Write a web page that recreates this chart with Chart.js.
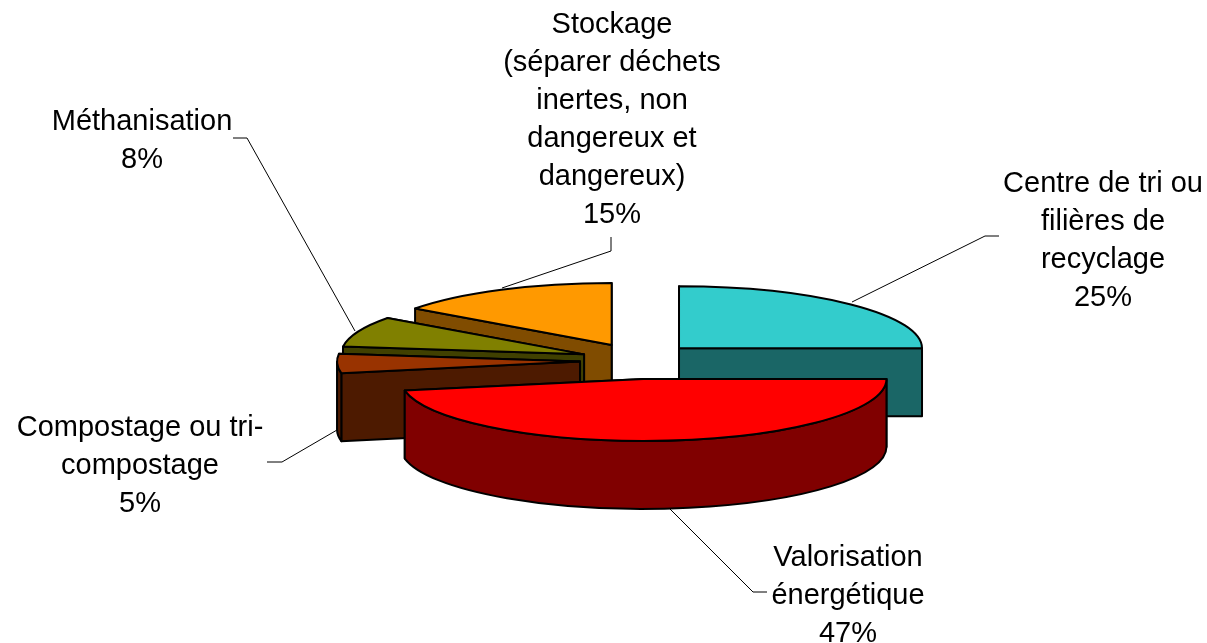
<!DOCTYPE html>
<html lang="fr">

<head>
  <meta charset="UTF-8" />
  <title>Traitement des déchets</title>
  <script src="https://cdn.jsdelivr.net/npm/chart.js"></script>
  <style>
    html, body {
      margin: 0;
      background: #fff;
      overflow: hidden;
    }

    #chart-container {
      position: relative;
      width: 1207px;
      height: 643px;
    }
  </style>
</head>

<body>

  <div id="chart-container">
    <canvas id="dechetsChart" width="1207" height="643"></canvas>
  </div>

  <script>
    // Données
    const categories = [
      ['Centre de tri ou', 'filières de', 'recyclage'],
      ['Valorisation', 'énergétique'],
      ['Compostage ou tri-', 'compostage'],
      ['Méthanisation'],
      ['Stockage', '(séparer déchets', 'inertes, non', 'dangereux et', 'dangereux)']
    ];
    const values = [25, 47, 5, 8, 15];

    // Couleurs : dessus et flancs
    const topColors = ['#33CCCC', '#FF0000', '#993300', '#808000', '#FF9900'];
    const wallColors = ['#1A6666', '#800000', '#4D1A00', '#404000', '#804C00'];

    // Réglages de la fausse 3D
    const squash = 0.255;
    const depth = 68;
    const explodeX = 58;
    const explodeY = 18;
    const drawOrder = [0, 4, 3, 2, 1];

    // Position des étiquettes et traits de rappel (centre x, baseline y de la 1re ligne)
    const labelBoxes = [
      { x: 1103, y: 192 },
      { x: 848, y: 566 },
      { x: 140, y: 436 },
      { x: 142, y: 130 },
      { x: 612, y: 33 }
    ];
    const leaderLines = [
      [[852, 302], [985, 236], [999, 236]],
      [[670, 509], [753, 592], [767, 592]],
      [[337, 430], [282, 462], [267, 462]],
      [[355, 331], [247, 138], [233, 138]],
      [[502, 288], [611, 251], [611, 237]]
    ];

    const fontSize = 29;
    const lineHeight = 38;

    // Prisme d'une part : flancs radiaux, flanc extérieur, puis dessus
    function drawSlice(ctx, arc, index) {
      const { startAngle, endAngle, outerRadius: r } = arc;
      const mid = (startAngle + endAngle) / 2;
      const cx = arc.x + Math.cos(mid) * explodeX;
      const cy = arc.y + Math.sin(mid) * explodeY;
      const px = a => cx + Math.cos(a) * r;
      const py = a => cy + Math.sin(a) * r * squash;

      ctx.save();
      ctx.lineWidth = 2;
      ctx.lineJoin = 'round';
      ctx.strokeStyle = '#000';
      ctx.fillStyle = wallColors[index];

      // flancs radiaux, celui du fond d'abord
      [startAngle, endAngle].sort((a, b) => py(a) - py(b)).forEach(a => {
        ctx.beginPath();
        ctx.moveTo(cx, cy);
        ctx.lineTo(px(a), py(a));
        ctx.lineTo(px(a), py(a) + depth);
        ctx.lineTo(cx, cy + depth);
        ctx.closePath();
        ctx.fill();
        ctx.stroke();
      });

      // flanc extérieur, seulement la partie tournée vers l'avant
      const a0 = Math.max(startAngle, 0);
      const a1 = Math.min(endAngle, Math.PI);
      if (a0 < a1) {
        ctx.beginPath();
        ctx.ellipse(cx, cy, r, r * squash, 0, a0, a1);
        ctx.lineTo(px(a1), py(a1) + depth);
        ctx.ellipse(cx, cy + depth, r, r * squash, 0, a1, a0, true);
        ctx.closePath();
        ctx.fill();
        ctx.stroke();
      }

      // dessus : l'arc de Chart.js, écrasé
      ctx.save();
      ctx.translate(cx, cy);
      ctx.scale(1, squash);
      ctx.translate(-arc.x, -arc.y);
      arc.draw(ctx);
      ctx.restore();

      ctx.beginPath();
      ctx.moveTo(cx, cy);
      ctx.ellipse(cx, cy, r, r * squash, 0, startAngle, endAngle);
      ctx.closePath();
      ctx.stroke();
      ctx.restore();
    }

    const pie3d = {
      id: 'pie3d',
      beforeDatasetDraw(chart) {
        const arcs = chart.getDatasetMeta(0).data;
        drawOrder.forEach(i => drawSlice(chart.ctx, arcs[i], i));
        return false;
      },
      afterDraw(chart) {
        const ctx = chart.ctx;
        ctx.save();
        ctx.strokeStyle = '#000';
        ctx.lineWidth = 1;
        leaderLines.forEach(pts => {
          ctx.beginPath();
          pts.forEach(([x, y], k) => (k ? ctx.lineTo(x, y) : ctx.moveTo(x, y)));
          ctx.stroke();
        });
        ctx.fillStyle = '#000';
        ctx.font = fontSize + 'px "Liberation Sans", Arial, sans-serif';
        ctx.textAlign = 'center';
        ctx.textBaseline = 'alphabetic';
        categories.forEach((lines, i) => {
          const box = labelBoxes[i];
          lines.concat(values[i] + '%').forEach((line, k) => {
            ctx.fillText(line, box.x, box.y + k * lineHeight);
          });
        });
        ctx.restore();
      }
    };

    new Chart(document.getElementById('dechetsChart').getContext('2d'), {
      type: 'pie',
      data: {
        labels: categories.map(c => c.join(' ')),
        datasets: [{
          data: values,
          backgroundColor: topColors,
          borderWidth: 0
        }]
      },
      options: {
        responsive: false,
        animation: false,
        layout: { padding: { left: 395, right: 326, top: 118, bottom: 39 } },
        plugins: {
          legend: { display: false },
          tooltip: { enabled: false }
        }
      },
      plugins: [pie3d]
    });
  </script>

</body>

</html>
